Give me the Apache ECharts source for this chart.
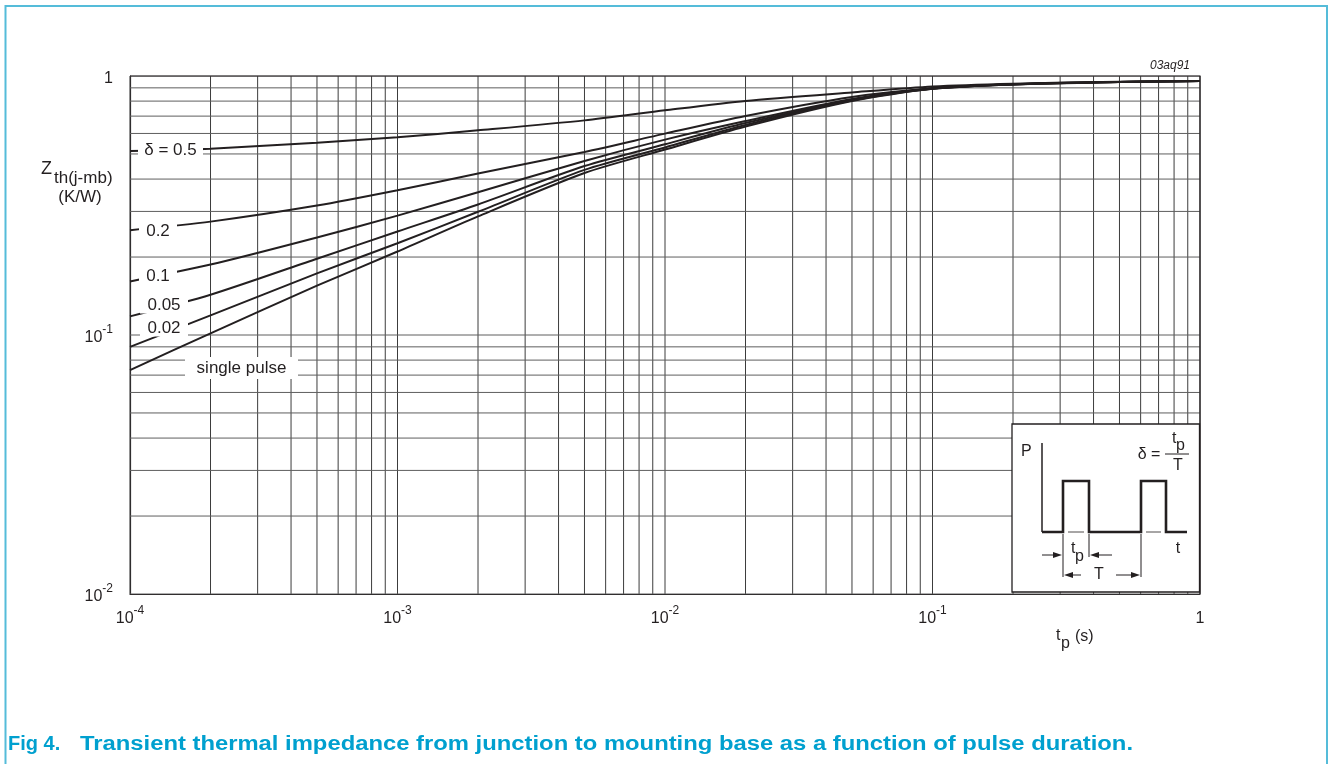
<!DOCTYPE html>
<html>
<head>
<meta charset="utf-8">
<script src="https://cdn.jsdelivr.net/npm/echarts@6/dist/echarts.min.js"></script>
<style>
html,body{margin:0;padding:0;background:#fff;}
#chart{width:1332px;height:764px;}
</style>
</head>
<body>
<div id="chart"></div>
<script>
// pulse duration tp (s)
const tp = [1e-4, 2e-4, 5e-4, 1e-3, 2e-3, 5e-3, 1e-2, 2e-2, 5e-2, 1e-1, 2e-1, 5e-1, 1];
// Zth(j-mb) (K/W) per duty cycle
const z_d05 = [0.513, 0.524, 0.553, 0.580, 0.617, 0.674, 0.737, 0.801, 0.864, 0.911, 0.934, 0.950, 0.957];
const z_d02 = [0.254, 0.274, 0.316, 0.362, 0.420, 0.509, 0.599, 0.701, 0.830, 0.897, 0.930, 0.949, 0.957];
const z_d01 = [0.161, 0.187, 0.238, 0.289, 0.356, 0.470, 0.568, 0.670, 0.815, 0.895, 0.929, 0.949, 0.957];
const z_d005 = [0.118, 0.143, 0.197, 0.251, 0.319, 0.449, 0.545, 0.658, 0.808, 0.894, 0.929, 0.949, 0.957];
const z_d002 = [0.090, 0.119, 0.173, 0.226, 0.299, 0.434, 0.530, 0.647, 0.804, 0.893, 0.928, 0.948, 0.957];
const z_single = [0.0732, 0.1015, 0.155, 0.210, 0.287, 0.422, 0.520, 0.638, 0.801, 0.892, 0.928, 0.948, 0.957];
const seriesNames = ['δ = 0.5', '0.2', '0.1', '0.05', '0.02', 'single pulse'];
const seriesData = [z_d05, z_d02, z_d01, z_d005, z_d002, z_single];
// decade starts and mantissas for the log grid
const xDecades = [1e-4, 1e-3, 1e-2, 1e-1];
const yDecades = [1e-2, 1e-1];
const mantissas = [1, 2, 3, 4, 5, 6, 7, 8, 9];

const FONT = '"Liberation Sans", Arial, sans-serif';
const INK = '#231f20';
const X_MIN = 1e-4, X_MAX = 1, Y_MIN = 1e-2, Y_MAX = 1;

const xGrid = [];
xDecades.forEach(d => mantissas.forEach(m => xGrid.push(+(d * m).toPrecision(3))));
xGrid.push(1);
const yGrid = [];
yDecades.forEach(d => mantissas.forEach(m => yGrid.push(+(d * m).toPrecision(3))));
yGrid.push(1);

function expLabel(v) {
  const e = Math.round(Math.log10(v));
  if (e === 0) return '{b|1}';
  return '{b|10}{s|' + e + '}';
}
const richTick = {
  b: { fontSize: 16, fontFamily: FONT, color: INK, lineHeight: 22, verticalAlign: 'bottom' },
  s: { fontSize: 12, fontFamily: FONT, color: INK, lineHeight: 12, verticalAlign: 'top' }
};

const chart = echarts.init(document.getElementById('chart'), null, { renderer: 'canvas' });

const series = [];
// grid lines as two-point line series placed through the axes
xGrid.forEach(v => series.push({
  type: 'line', data: [[v, Y_MIN], [v, Y_MAX]], showSymbol: false, silent: true, z: 1,
  lineStyle: { color: '#3c3c3c', width: 1 }, animation: false
}));
yGrid.forEach(v => series.push({
  type: 'line', data: [[X_MIN, v], [X_MAX, v]], showSymbol: false, silent: true, z: 1,
  lineStyle: { color: '#5e5e5e', width: 1 }, animation: false
}));
seriesData.forEach((arr, i) => series.push({
  name: seriesNames[i],
  type: 'line',
  data: tp.map((t, k) => [t, arr[k]]),
  showSymbol: false,
  smooth: 0.25,
  z: 5,
  lineStyle: { color: INK, width: 2 },
  animation: false
}));

const option = {
  animation: false,
  backgroundColor: '#fff',
  grid: { left: 130, right: 132, top: 76, bottom: 170, outerBoundsMode: 'none', show: false },
  xAxis: {
    type: 'log', logBase: 10, min: X_MIN, max: X_MAX,
    axisLine: { show: true, lineStyle: { color: INK, width: 1.2 } },
    axisTick: { show: false },
    splitLine: { show: false },
    axisLabel: { margin: 11, formatter: expLabel, rich: richTick, showMinLabel: true, showMaxLabel: true }
  },
  yAxis: {
    type: 'log', logBase: 10, min: Y_MIN, max: Y_MAX,
    axisLine: { show: true, lineStyle: { color: INK, width: 1.2 } },
    axisTick: { show: false },
    splitLine: { show: false },
    axisLabel: { margin: 17, formatter: expLabel, rich: richTick, showMinLabel: true, showMaxLabel: true }
  },
  series: series
};
chart.setOption(option);

// ---------- annotations ----------
const measureCtx = document.createElement('canvas').getContext('2d');
function fitScale(text, font, width) {
  measureCtx.font = font;
  return width / measureCtx.measureText(text).width;
}
const g = [];
function txt(text, x, y, size, align, extra) {
  g.push(Object.assign({ type: 'text', z: 81, x: x, y: y, style: { text: text, font: size + 'px ' + FONT, fill: INK, textAlign: align || 'left', textVerticalAlign: 'middle' } }, extra || {}));
}
// frame (light blue)
g.push({ type: 'polyline', z: 200, shape: { points: [[5.5, 764], [5.5, 6], [1327, 6], [1327, 764]] }, style: { stroke: '#55bcd9', lineWidth: 2, fill: null } });
// right / top plot border
g.push({ type: 'polyline', z: 50, shape: { points: [[130, 76], [1200, 76], [1200, 594]] }, style: { stroke: INK, lineWidth: 1.2, fill: null } });

// curve labels (white boxes interrupting curves and grid)
function curveLabel(text, x, y, w, h) {
  g.push({ type: 'rect', z: 60, shape: { x: x, y: y - h / 2, width: w, height: h }, style: { fill: '#fff' } });
  g.push({ type: 'text', z: 61, x: x + w / 2, y: y, style: { text: text, font: '17px ' + FONT, fill: INK, textAlign: 'center', textVerticalAlign: 'middle' } });
}
curveLabel('δ = 0.5', 138, 150, 65, 18);
curveLabel('0.2', 139, 231, 38, 18);
curveLabel('0.1', 139, 276, 38, 18);
curveLabel('0.05', 140, 305, 48, 17);
curveLabel('0.02', 140, 328, 48, 17);
curveLabel('single pulse', 185, 368, 113, 22);

// y-axis title
txt('Z', 41, 169, 18, 'left', { z: 70 });
txt('th(j-mb)', 54, 178, 17, 'left', { z: 70 });
txt('(K/W)', 80, 197, 17, 'center', { z: 70 });

// x-axis title
txt('t', 1056, 636, 16, 'left', { z: 70 });
txt('p', 1061, 644, 16, 'left', { z: 70 });
txt('(s)', 1075, 637, 16, 'left', { z: 70 });

// figure code
g.push({ type: 'text', z: 70, x: 1190, y: 66, style: { text: '03aq91', font: 'italic 12px ' + FONT, fill: INK, textAlign: 'right', textVerticalAlign: 'middle' } });

// caption
const capFont = 'bold 20px ' + FONT;
const cap1 = 'Fig 4.';
const cap2 = 'Transient thermal impedance from junction to mounting base as a function of pulse duration.';
g.push({ type: 'text', z: 70, x: 8, y: 744, style: { text: cap1, font: capFont, fill: '#00a0cf', textAlign: 'left', textVerticalAlign: 'middle' } });
g.push({ type: 'text', z: 70, x: 80, y: 744, scaleX: fitScale(cap2, capFont, 1053), style: { text: cap2, font: capFont, fill: '#00a0cf', textAlign: 'left', textVerticalAlign: 'middle' } });

// inset: pulse definition
g.push({ type: 'rect', z: 80, shape: { x: 1012, y: 424, width: 187.5, height: 168 }, style: { fill: '#fff', stroke: INK, lineWidth: 1.3 } });
txt('P', 1021, 452, 16, 'left');
g.push({ type: 'line', z: 81, shape: { x1: 1042, y1: 443, x2: 1042, y2: 532 }, style: { stroke: INK, lineWidth: 1.5 } });
g.push({ type: 'polyline', z: 81, shape: { points: [[1042, 532], [1063, 532], [1063, 481], [1089, 481], [1089, 532], [1141, 532], [1141, 481], [1166, 481], [1166, 532], [1187, 532]] }, style: { stroke: INK, lineWidth: 2.6, fill: null } });
g.push({ type: 'rect', z: 82, shape: { x: 1065, y: 529, width: 22, height: 6 }, style: { fill: '#fff' } });
g.push({ type: 'rect', z: 82, shape: { x: 1143, y: 529, width: 21, height: 6 }, style: { fill: '#fff' } });
g.push({ type: 'line', z: 83, shape: { x1: 1068, y1: 532, x2: 1084, y2: 532 }, style: { stroke: INK, lineWidth: 0.8 } });
g.push({ type: 'line', z: 83, shape: { x1: 1146, y1: 532, x2: 1161, y2: 532 }, style: { stroke: INK, lineWidth: 0.8 } });
txt('t', 1178, 549, 16, 'center');
// extension lines
g.push({ type: 'line', z: 81, shape: { x1: 1063, y1: 534, x2: 1063, y2: 577 }, style: { stroke: INK, lineWidth: 1 } });
g.push({ type: 'line', z: 81, shape: { x1: 1089, y1: 534, x2: 1089, y2: 557 }, style: { stroke: INK, lineWidth: 1 } });
g.push({ type: 'line', z: 81, shape: { x1: 1141, y1: 534, x2: 1141, y2: 577 }, style: { stroke: INK, lineWidth: 1 } });
function arrow(x1, x2, y) {
  const dir = x2 > x1 ? 1 : -1;
  g.push({ type: 'line', z: 81, shape: { x1: x1, y1: y, x2: x2 - dir * 6, y2: y }, style: { stroke: INK, lineWidth: 1 } });
  g.push({ type: 'polygon', z: 81, shape: { points: [[x2, y], [x2 - dir * 9, y - 3], [x2 - dir * 9, y + 3]] }, style: { fill: INK } });
}
arrow(1042, 1062, 555);
arrow(1112, 1090, 555);
txt('t', 1071, 549, 16, 'left');
txt('p', 1075, 557, 16, 'left');
arrow(1081, 1064, 575);
arrow(1116, 1140, 575);
txt('T', 1099, 575, 16, 'center');
// delta = tp / T
txt('δ =', 1149, 455, 16, 'center');
txt('t', 1172, 439, 16, 'left');
txt('p', 1176, 446, 16, 'left');
g.push({ type: 'line', z: 81, shape: { x1: 1165, y1: 454, x2: 1189, y2: 454 }, style: { stroke: INK, lineWidth: 1 } });
txt('T', 1178, 466, 16, 'center');

chart.setOption({ graphic: g });
</script>
</body>
</html>
